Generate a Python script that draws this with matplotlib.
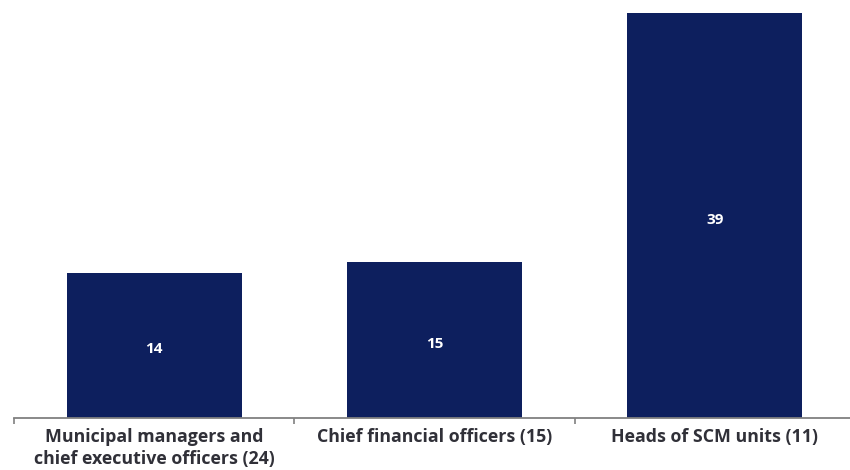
import matplotlib.pyplot as plt

categories = ["Municipal managers and\nchief executive officers (24)",
              "Chief financial officers (15)",
              "Heads of SCM units (11)"]
values = [14, 15, 39]

bar_color = "#0d1f5e"

fig = plt.figure(figsize=(8.5, 4.7), dpi=100)
ax = fig.add_axes([14 / 850, 52 / 470, 841 / 850, 418 / 470])

x = range(len(values))
bars = ax.bar(x, values, width=0.625, color=bar_color)

for b, v in zip(bars, values):
    ax.text(b.get_x() + b.get_width() / 2, v / 2 - 0.4, str(v),
            ha="center", va="center", color="white",
            fontsize=11, fontweight="bold", family="Open Sans")

ax.set_xlim(-0.5, 2.5)
ax.set_ylim(0, 40.25)
ax.set_yticks([])
ax.set_xticks(list(x))
ax.set_xticklabels(categories, fontsize=12.8, fontweight="bold",
                   family="Open Sans", color="#303038", linespacing=1.3)
ax.tick_params(axis="x", which="major", length=0, pad=7)
ax.set_xticks([-0.5, 0.5, 1.5, 2.5], minor=True)
ax.tick_params(axis="x", which="minor", length=4, width=1.2,
               color="#808080", direction="out")

for side in ["top", "right", "left"]:
    ax.spines[side].set_visible(False)
ax.spines["bottom"].set_color("#808080")
ax.spines["bottom"].set_linewidth(1.3)

fig.savefig("out.png", dpi=100)
